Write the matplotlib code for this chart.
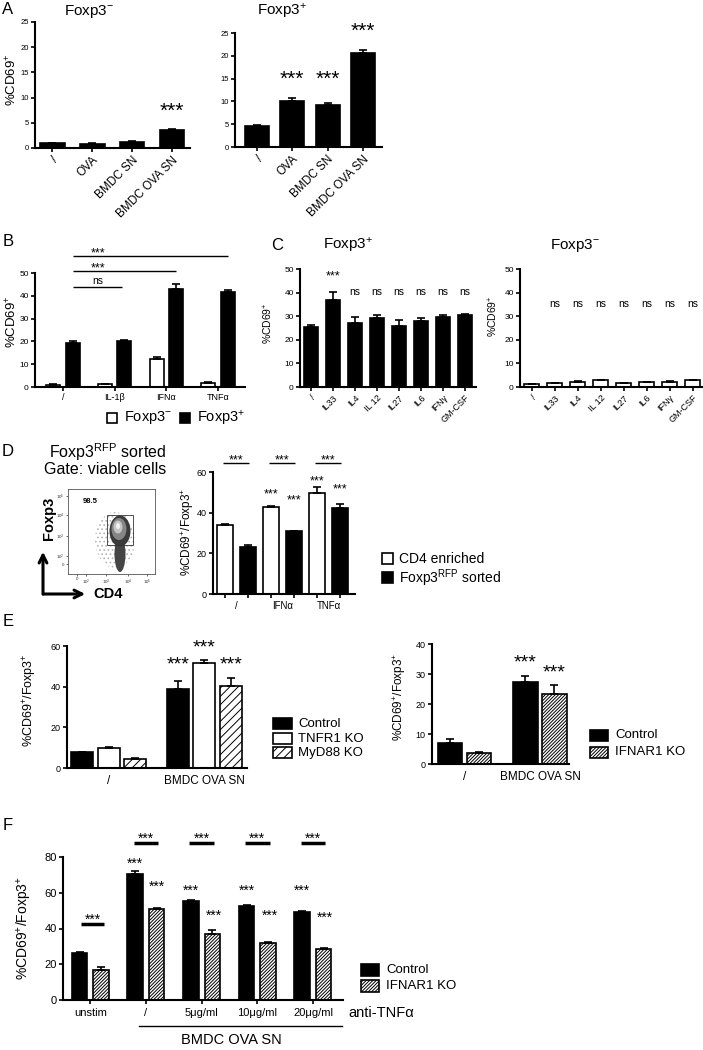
import numpy as np
import matplotlib
matplotlib.use('Agg')
import matplotlib.pyplot as plt
from matplotlib.patches import Rectangle, Ellipse, FancyArrowPatch
from matplotlib.lines import Line2D

plt.rcParams['font.family'] = ['Liberation Sans', 'DejaVu Sans']
plt.rcParams['mathtext.fontset'] = 'custom'
plt.rcParams['mathtext.rm'] = 'Liberation Sans'
plt.rcParams['mathtext.it'] = 'Liberation Sans:italic'
plt.rcParams['mathtext.bf'] = 'Liberation Sans:bold'
plt.rcParams['mathtext.default'] = 'regular'
plt.rcParams['hatch.linewidth'] = 0.7
NARROW = ['Liberation Sans Narrow', 'Liberation Sans', 'DejaVu Sans']

# ---------------- data ----------------
A_labels = ["/", "OVA", "BMDC SN", "BMDC OVA SN"]
A_neg = [0.9, 0.8, 1.2, 3.6]
A_neg_err = [0.1, 0.1, 0.15, 0.15]
A_pos = [4.7, 10.0, 9.3, 20.7]
A_pos_err = [0.2, 0.8, 0.4, 0.6]

B_labels = ["/", "IL-1β", "IFNα", "TNFα"]
B_neg = [1.0, 1.2, 12.5, 1.8]
B_neg_err = [0.2, 0.2, 0.8, 0.3]
B_pos = [19.5, 20.0, 43.0, 41.5]
B_pos_err = [0.8, 0.7, 2.3, 1.2]

C_labels = ["/", "IL33", "IL4", "IL 12", "IL27", "IL6", "IFNγ", "GM-CSF"]
C_pos = [25.5, 36.8, 27.2, 29.3, 26.0, 27.8, 29.8, 30.7]
C_pos_err = [0.8, 3.6, 2.4, 1.0, 2.3, 1.3, 0.7, 0.4]
C_neg = [1.3, 1.5, 2.2, 2.9, 1.8, 2.0, 2.3, 2.8]
C_neg_err = [0.1, 0.1, 0.2, 0.2, 0.1, 0.2, 0.1, 0.2]

D_labels = ["/", "IFNα", "TNFα"]
D_cd4 = [34.0, 43.0, 49.7]
D_cd4_err = [0.2, 0.2, 2.8]
D_sorted = [23.3, 31.0, 42.4]
D_sorted_err = [1.0, 0.2, 1.7]

E1_labels = ["/", "BMDC OVA SN"]
E1_control = [7.8, 38.8]
E1_control_err = [0.2, 3.8]
E1_tnfr1 = [10.0, 51.8]
E1_tnfr1_err = [0.4, 1.2]
E1_myd88 = [4.5, 40.5]
E1_myd88_err = [0.3, 3.9]

E2_labels = ["/", "BMDC OVA SN"]
E2_control = [6.9, 27.5]
E2_control_err = [1.5, 1.8]
E2_ifnar1 = [3.7, 23.5]
E2_ifnar1_err = [0.2, 2.8]

F_labels = ["unstim", "/", "5μg/ml", "10μg/ml", "20μg/ml"]
F_control = [26.5, 70.5, 55.3, 52.5, 49.5]
F_control_err = [0.6, 1.6, 0.4, 0.4, 0.4]
F_ifnar1 = [17.0, 51.0, 36.8, 31.8, 28.8]
F_ifnar1_err = [1.2, 0.3, 2.6, 0.4, 0.4]

# ---------------- helpers ----------------
W, H = 703, 1050
fig = plt.figure(figsize=(W / 100, H / 100), dpi=100)
fig.patch.set_facecolor('white')
DENSE = '//////////'


def px_ax(l, t, r, b):
    ax = fig.add_axes([l / W, 1 - b / H, (r - l) / W, (b - t) / H])
    ax.set_facecolor('none')
    return ax


def ftext(x, y, s, **kw):
    kw.setdefault('ha', 'center')
    kw.setdefault('va', 'center')
    fig.text(x / W, 1 - y / H, s, **kw)


def style(ax, ymax, step, lsize=6):
    for s in ['top', 'right']:
        ax.spines[s].set_visible(False)
    for s in ['left', 'bottom']:
        ax.spines[s].set_linewidth(1.5)
    ax.set_ylim(0, ymax)
    ax.set_yticks(np.arange(0, ymax + 0.01, step))
    ax.tick_params(axis='both', direction='out', length=3, width=1.2,
                   labelsize=lsize, pad=1.5)


def bars(ax, x, h, err, fc, hatch=None, width=0.6, lw=1.2):
    ax.bar(x, h, width=width, color=fc, edgecolor='black', linewidth=lw,
           hatch=hatch, zorder=2)
    ax.errorbar(x, h, yerr=[np.zeros(len(h)), err], fmt='none', ecolor='black',
                elinewidth=1.2, capsize=3, capthick=1.2, zorder=3)


def star(ax, x, y, s='***', fs=9):
    dy = -0.32 * fs if '*' in s else 0
    ax.annotate(s, (x, y), xytext=(0, dy), textcoords='offset points',
                ha='center', va='center', fontsize=fs, annotation_clip=False)


def hline(ax, x1, x2, y, lw=1.0):
    ax.plot([x1, x2], [y, y], color='black', lw=lw, clip_on=False,
            solid_capstyle='butt')


def legbox(x, y, w, h, fc, hatch=None):
    fig.add_artist(Rectangle((x / W, 1 - (y + h) / H), w / W, h / H,
                             transform=fig.transFigure, facecolor=fc,
                             edgecolor='black', linewidth=1.2, hatch=hatch))


# ---------------- Panel A ----------------
ftext(8, 9, 'A', fontsize=12)
ftext(89, 11, 'Foxp3$^{-}$', fontsize=11)
ftext(282, 12, 'Foxp3$^{+}$', fontsize=11)
ftext(12, 80, '%CD69$^{+}$', fontsize=9.5, rotation=90)

xA = np.arange(len(A_labels))
axA1 = px_ax(35, 22, 190, 148)
bars(axA1, xA, A_neg, A_neg_err, 'black', width=0.62)
style(axA1, 25, 5, lsize=5.5)
axA1.set_xlim(-0.43, 3.45)
axA1.set_xticks(xA, A_labels, rotation=45, ha='right', rotation_mode='anchor',
                fontsize=8.5)
star(axA1, 3, 8.5, fs=15)

axA2 = px_ax(235, 33, 382, 147)
bars(axA2, xA, A_pos, A_pos_err, 'black', width=0.68)
style(axA2, 25, 5, lsize=5.5)
axA2.set_xlim(-0.62, 3.54)
axA2.set_xticks(xA, A_labels, rotation=45, ha='right', rotation_mode='anchor',
                fontsize=8.5)
star(axA2, 1, 16.4, fs=15)
star(axA2, 2, 16.4, fs=15)
star(axA2, 3, 26.9, fs=15)

# ---------------- Panel B ----------------
ftext(8, 242, 'B', fontsize=12)
ftext(12, 322, '%CD69$^{+}$', fontsize=9.5, rotation=90)
xB = np.arange(len(B_labels))
axB = px_ax(35, 273, 245, 387)
bars(axB, xB - 0.19, B_neg, B_neg_err, 'white', width=0.27)
bars(axB, xB + 0.19, B_pos, B_pos_err, 'black', width=0.27)
style(axB, 50, 10, lsize=6)
axB.set_xlim(-0.54, 3.52)
axB.set_xticks(xB, B_labels, fontsize=6.5)
hline(axB, 0.19, 3.19, 57.5)
hline(axB, 0.19, 2.19, 50.9)
hline(axB, 0.19, 1.15, 43.9)
star(axB, 0.67, 60.3, fs=9)
star(axB, 0.67, 53.7, fs=9)
star(axB, 0.67, 46.7, 'ns', fs=7.5)

legbox(107, 413, 10, 10, 'white')
ftext(124, 418, 'Foxp3$^{-}$', fontsize=10.5, ha='left')
legbox(180, 413, 10, 10, 'black')
ftext(197, 418, 'Foxp3$^{+}$', fontsize=10.5, ha='left')

# ---------------- Panel C ----------------
ftext(277, 245, 'C', fontsize=12)
ftext(348, 245, 'Foxp3$^{+}$', fontsize=11)
ftext(575, 245, 'Foxp3$^{-}$', fontsize=11)
ftext(268, 323, '%CD69$^{+}$', fontsize=7.5, rotation=90)
ftext(493, 316, '%CD69$^{+}$', fontsize=7.5, rotation=90)
xC = np.arange(len(C_labels))
axC1 = px_ax(300, 269, 476, 387)
bars(axC1, xC, C_pos, C_pos_err, 'black', width=0.62)
style(axC1, 50, 10, lsize=6)
axC1.set_xlim(-0.5, 7.5)
axC1.set_xticks(xC, C_labels, rotation=45, ha='right', rotation_mode='anchor',
                fontsize=6.5)
star(axC1, 1, 48.7, fs=9)
for i in range(2, 8):
    star(axC1, i, 40.2, 'ns', fs=7.5)

axC2 = px_ax(520, 269, 704, 387)
bars(axC2, xC, C_neg, C_neg_err, 'white', width=0.62)
style(axC2, 50, 10, lsize=6)
axC2.set_xlim(-0.5, 7.5)
axC2.set_xticks(xC, C_labels, rotation=45, ha='right', rotation_mode='anchor',
                fontsize=6.5)
for i in range(1, 8):
    star(axC2, i, 35.0, 'ns', fs=7.5)

# ---------------- Panel D ----------------
ftext(8, 452, 'D', fontsize=12)
ftext(108, 452, 'Foxp3$^{RFP}$ sorted', fontsize=11.5)
ftext(105, 470, 'Gate: viable cells', fontsize=11.5)

axF0 = px_ax(68, 489, 155, 574)
axF0.set_xlim(0, 87)
axF0.set_ylim(0, 85)
for s in axF0.spines.values():
    s.set_linewidth(0.6)
    s.set_color('#555555')
axF0.set_xticks([9, 18, 38, 60, 79],
                ['0', '10$^{2}$', '10$^{3}$', '10$^{4}$', '10$^{5}$'])
axF0.set_yticks([10, 18, 38, 59, 78],
                ['0', '10$^{2}$', '10$^{3}$', '10$^{4}$', '10$^{5}$'])
axF0.tick_params(direction='out', length=1.5, width=0.5, labelsize=3.2, pad=1,
                 colors='#333333')
axF0.add_patch(Ellipse((47, 34), 40, 56, facecolor='none', edgecolor='#b5b5b5',
                       hatch='....', linewidth=0))
axF0.add_patch(Ellipse((52, 20), 11, 36, facecolor='#454545', edgecolor='none'))
axF0.add_patch(Ellipse((52, 43), 21, 31, facecolor='#3a3a3a', edgecolor='none'))
axF0.add_patch(Ellipse((51, 45), 15, 22, facecolor='#858585', edgecolor='none'))
axF0.add_patch(Ellipse((50, 47), 9, 13, facecolor='#c4c4c4', edgecolor='none'))
axF0.add_patch(Ellipse((50, 48), 4, 6, facecolor='#f2f2f2', edgecolor='none'))
axF0.add_patch(Rectangle((39, 29), 26, 30, facecolor='none', edgecolor='#333333',
                         linewidth=0.6))
axF0.text(22, 72, '98.5', fontsize=5.5, fontweight='bold', ha='center', va='center')

fig.add_artist(FancyArrowPatch((43 / W, 1 - 597 / H), (43 / W, 1 - 549 / H),
                               transform=fig.transFigure, arrowstyle='->',
                               mutation_scale=14, lw=2.2, color='black'))
fig.add_artist(FancyArrowPatch((41 / W, 1 - 594 / H), (88 / W, 1 - 594 / H),
                               transform=fig.transFigure, arrowstyle='->',
                               mutation_scale=14, lw=2.2, color='black'))
ftext(49, 518, 'Foxp3', fontsize=10.5, fontweight='bold', rotation=90)
ftext(108, 594, 'CD4', fontsize=10.5, fontweight='bold')

ftext(188, 532, '%CD69$^{+}$/Foxp3$^{+}$', fontsize=8.5, rotation=90)
xD = np.arange(len(D_labels)) * 2
axD = px_ax(213, 472, 355, 594)
bars(axD, xD, D_cd4, D_cd4_err, 'white', width=0.72)
bars(axD, xD + 1, D_sorted, D_sorted_err, 'black', width=0.72)
style(axD, 60, 20, lsize=6.5)
axD.set_xlim(-0.52, 5.65)
axD.set_xticks(np.arange(6), [''] * 6)
axD.set_xticks(xD + 0.5, D_labels, minor=True)
axD.tick_params(axis='x', which='minor', length=0, labelsize=7, pad=5)
for g in xD:
    hline(axD, g - 0.08, g + 1.05, 64.5)
    star(axD, g + 0.48, 67.6, fs=9)
star(axD, 2, 50.7, fs=9)
star(axD, 3, 47.8, fs=9)
star(axD, 4, 57.1, fs=9)
star(axD, 5, 53.2, fs=9)

legbox(382, 553, 11, 11, 'white')
ftext(399, 559, 'CD4 enriched', fontsize=10, ha='left')
legbox(382, 572, 11, 11, 'black')
ftext(399, 578, 'Foxp3$^{RFP}$ sorted', fontsize=10, ha='left')

# ---------------- Panel E ----------------
ftext(8, 622, 'E', fontsize=12)
ftext(30, 700, '%CD69$^{+}$/Foxp3$^{+}$', fontsize=9, rotation=90)
gE1 = np.array([0.0, 3.6])
axE1 = px_ax(67, 646, 247, 768)
bars(axE1, gE1, E1_control, E1_control_err, 'black', width=0.83)
bars(axE1, gE1 + 1, E1_tnfr1, E1_tnfr1_err, 'white', width=0.83)
bars(axE1, gE1 + 2, E1_myd88, E1_myd88_err, 'white', hatch='////', width=0.83)
style(axE1, 60, 20, lsize=6.5)
axE1.set_xlim(-0.57, 6.2)
axE1.set_xticks(gE1 + 1, E1_labels, fontsize=8.5)
axE1.tick_params(axis='x', length=0, pad=5)
star(axE1, 3.6, 53.7, fs=14)
star(axE1, 4.6, 62.0, fs=14)
star(axE1, 5.6, 53.7, fs=14)

legbox(273, 718, 19, 11, 'black')
ftext(298, 724, 'Control', fontsize=9.5, ha='left')
legbox(273, 733, 19, 11, 'white')
ftext(298, 738.5, 'TNFR1 KO', fontsize=9.5, ha='left')
legbox(273, 747, 19, 11, 'white', hatch='////')
ftext(298, 753, 'MyD88 KO', fontsize=9.5, ha='left')

ftext(400, 697, '%CD69$^{+}$/Foxp3$^{+}$', fontsize=8.5, rotation=90)
gE2 = np.array([0.0, 2.6])
axE2 = px_ax(432, 644, 569, 764)
bars(axE2, gE2, E2_control, E2_control_err, 'black', width=0.83)
bars(axE2, gE2 + 1, E2_ifnar1, E2_ifnar1_err, 'white', hatch=DENSE, width=0.83)
style(axE2, 40, 10, lsize=6.5)
axE2.set_xlim(-0.62, 4.1)
axE2.set_xticks(gE2 + 0.5, E2_labels, fontsize=8.5)
axE2.tick_params(axis='x', length=0, pad=5)
star(axE2, 2.6, 35.7, fs=14)
star(axE2, 3.6, 32.3, fs=14)

legbox(590, 730, 18, 11, 'black')
ftext(615, 735.5, 'Control', fontsize=9.5, ha='left')
legbox(590, 747, 18, 11, 'white', hatch=DENSE)
ftext(615, 752, 'IFNAR1 KO', fontsize=9.5, ha='left')

# ---------------- Panel F ----------------
ftext(8, 825, 'F', fontsize=12)
ftext(25, 928, '%CD69$^{+}$/Foxp3$^{+}$', fontsize=10, rotation=90)
xF = np.arange(len(F_labels))
axF = px_ax(63, 857, 343, 1000)
bars(axF, xF - 0.193, F_control, F_control_err, 'black', width=0.28)
bars(axF, xF + 0.193, F_ifnar1, F_ifnar1_err, 'white', hatch=DENSE, width=0.28)
style(axF, 80, 20, lsize=8)
axF.set_xlim(-0.49, 4.54)
axF.set_xticks(xF, F_labels)
for lab in axF.get_xticklabels():
    lab.set_fontfamily(NARROW)
    lab.set_fontsize(8)
for lab in axF.get_yticklabels():
    lab.set_fontfamily(NARROW)
axF.tick_params(axis='x', pad=3)
hline(axF, -0.17, 0.25, 42.7, lw=2.5)
star(axF, 0.04, 47.3, fs=10)
for g in range(1, 5):
    hline(axF, g - 0.22, g + 0.22, 88.0, lw=2.5)
    star(axF, g, 92.5, fs=10)
star(axF, 1 - 0.193, 78.7, fs=10)
star(axF, 1 + 0.193, 66.0, fs=10)
for g in (2, 3, 4):
    star(axF, g - 0.193, 63.7, fs=10)
star(axF, 2 + 0.22, 49.4, fs=10)
star(axF, 3 + 0.22, 49.4, fs=10)
star(axF, 4 + 0.22, 48.7, fs=10)

legbox(361, 964, 18, 12, 'black')
ftext(386, 970, 'Control', fontsize=9.5, ha='left')
legbox(361, 980, 18, 12, 'white', hatch=DENSE)
ftext(386, 986, 'IFNAR1 KO', fontsize=9.5, ha='left')
ftext(348, 1013, 'anti-TNFα', fontsize=10.5, ha='left', family=NARROW)
fig.add_artist(Line2D([139 / W, 342 / W], [1 - 1026 / H, 1 - 1026 / H],
                      transform=fig.transFigure, color='black', lw=1.0))
ftext(231, 1040, 'BMDC OVA SN', fontsize=10.5, family=NARROW)

fig.savefig('out.png', dpi=100)
